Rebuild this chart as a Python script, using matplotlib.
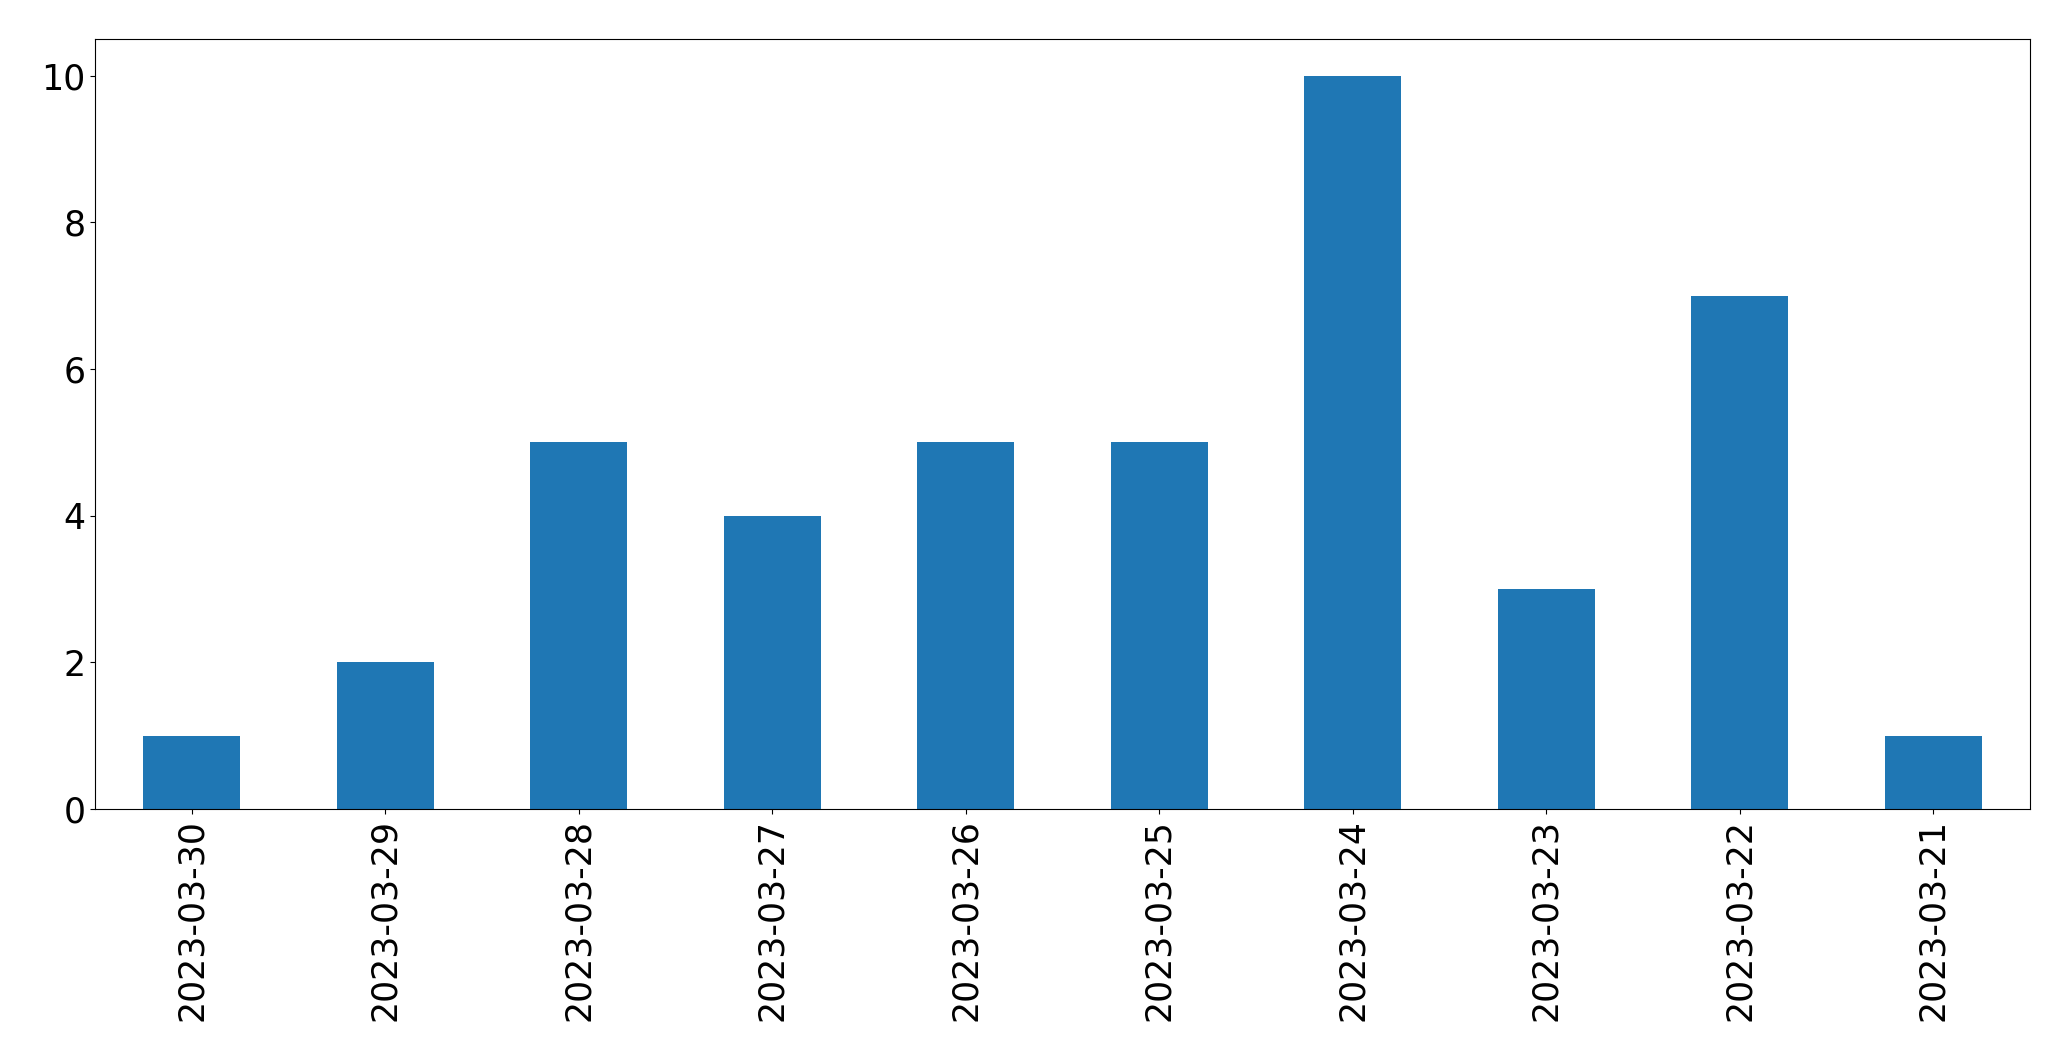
import matplotlib
matplotlib.use("Agg")
import matplotlib.pyplot as plt

dates = ["2023-03-30", "2023-03-29", "2023-03-28", "2023-03-27", "2023-03-26",
         "2023-03-25", "2023-03-24", "2023-03-23", "2023-03-22", "2023-03-21"]
counts = [1, 2, 5, 4, 5, 5, 10, 3, 7, 1]

fig = plt.figure(figsize=(20.71, 10.61), dpi=100)
ax = fig.add_axes([95/2071, 1 - 809/1061, (2030-95)/2071, (809-39)/1061])
x = range(len(dates))
ax.bar(x, counts, width=0.5, color="#1f77b4")
ax.set_xticks(list(x))
ax.set_xticklabels(dates, rotation=90)
ax.set_xlim(-0.5, len(dates) - 0.5)
ax.set_ylim(0, 10.5)
ax.tick_params(labelsize=25)
fig.savefig("out.png", dpi=100)
